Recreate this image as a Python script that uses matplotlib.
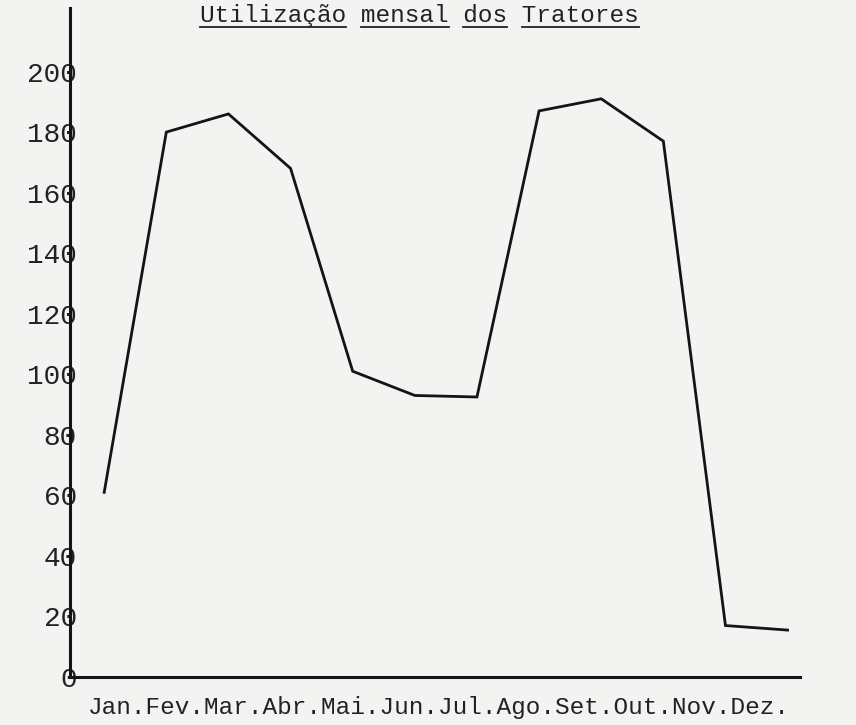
import numpy as np
import matplotlib
matplotlib.use("Agg")
import matplotlib.pyplot as plt
from matplotlib.lines import Line2D

months = ["Jan.", "Fev.", "Mar.", "Abr.", "Mai.", "Jun.",
          "Jul.", "Ago.", "Set.", "Out.", "Nov.", "Dez."]
usage = [61, 180, 186, 168, 101, 93, 92.5, 187, 191, 177, 17, 15.5]
yticks = list(range(0, 201, 20))
title = "Utilização mensal dos Tratores"

paper = "#f3f3f1"
ink = "#141414"
plt.rcParams["font.family"] = ["Liberation Mono", "DejaVu Sans Mono"]

fig = plt.figure(figsize=(8.56, 7.25), dpi=100, facecolor=paper)
ax = fig.add_axes([0.0818, 0.0662, 0.8528, 0.9228])
ax.set_facecolor(paper)

x = np.arange(len(months))
ax.plot(x, usage, color=ink, lw=2.0, solid_joinstyle="miter")

ax.set_xlim(-0.55, 11.2)
ax.set_ylim(0, 221)

for side in ["top", "right"]:
    ax.spines[side].set_visible(False)
for side in ["left", "bottom"]:
    ax.spines[side].set_color(ink)
    ax.spines[side].set_linewidth(2.2)

ax.set_yticks(yticks)
ax.set_yticklabels([str(v) for v in yticks], fontsize=20, color="#222222")
ax.tick_params(axis="y", length=0, pad=-5)
ax.set_xticks([])

# month names typed as one continuous line under the axis
ax.text(-0.27, -0.028, "".join(months), transform=ax.get_xaxis_transform(),
        ha="left", va="top", fontsize=17.6, color="#222222")

t = fig.text(0.49, 0.978, title, ha="center", va="center",
             fontsize=17.6, color="#222222")

# underline each word of the title, like on the typewriter
fig.canvas.draw()
bb = t.get_window_extent()
cw = bb.width / len(title)
pos = 0
for word in title.split(" "):
    x0 = bb.x0 + pos * cw
    x1 = x0 + len(word) * cw
    yl = bb.y0
    fig.add_artist(Line2D([x0 / fig.bbox.width, x1 / fig.bbox.width],
                          [yl / fig.bbox.height, yl / fig.bbox.height],
                          transform=fig.transFigure, color="#222222", lw=1.3))
    pos += len(word) + 1

fig.savefig("out.png", dpi=100, facecolor=paper)
